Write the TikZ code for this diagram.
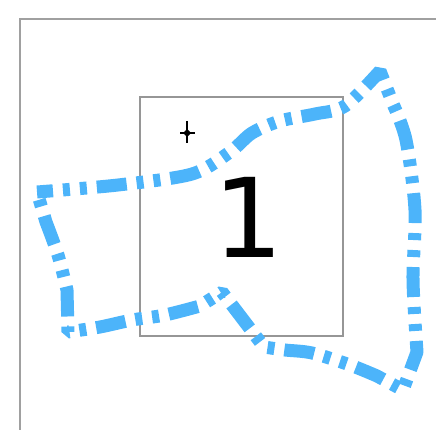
\documentclass[tikz,border=0pt]{standalone}
\usepackage{fontspec}
\usepackage{tikz}
\usetikzlibrary{positioning}
\newfontfamily\digitfont{DejaVu Sans}
\definecolor{axisgray}{RGB}{160,160,160}
\definecolor{boxgray}{RGB}{150,150,150}
\definecolor{routeblue}{RGB}{76,180,250}

\begin{document}
\begin{tikzpicture}[x=1pt, y=-1pt,
  frame/.style={draw=axisgray, line width=2pt},
  panel/.style={draw=boxgray, line width=1.3pt, minimum width=203pt, minimum height=239pt, inner sep=0pt},
  route/.style={draw=routeblue, line width=13pt, line join=bevel,
    dash pattern=on 30pt off 10pt on 7pt off 10pt on 7pt off 10pt, dash phase=14pt},
  digit/.style={font=\digitfont\fontsize{110}{110}\selectfont, inner sep=0pt},
  pinline/.style={draw=black, line width=2.4pt}
]
\useasboundingbox (0,0) rectangle (436,430);

% axes frame
\coordinate (ybot) at (20,430);
\coordinate (corner) at (20,19);
\coordinate (xend) at (436,19);
\draw[frame] (ybot) -- (corner) -- (xend);

% panel and label
\node[panel] (box) at (241.5,216.5) {};
\node[digit] (num) at (248,217) {1};

% marker
\coordinate (pin) at (187,133);
\draw[pinline] ([yshift=12pt]pin) -- ([yshift=-10pt]pin);
\draw[pinline] ([xshift=-7pt]pin) -- ([xshift=8pt]pin);
\fill (pin) ++(0,-4) -- ++(4,4) -- ++(-4,4) -- ++(-4,-4) -- cycle;

% route
\draw[route] plot[smooth, tension=0.5] coordinates {(37,192) (118,185) (192,174) (230,152) (252,133) (280,121) (315,114) (345,106) (380,71)}
  -- plot[smooth, tension=0.5] coordinates {(393,104) (406,140) (415,210) (413,280) (417,352)}
  -- (403,390)
  -- plot[smooth, tension=0.5] coordinates {(377,376) (350,365) (312,353) (285,350) (264,347)}
  -- (222,292)
  -- plot[smooth, tension=0.5] coordinates {(200,306) (165,315) (132,320) (100,327) (68,332)}
  -- plot[smooth, tension=0.5] coordinates {(67,290) (58,255) (46,222)}
  -- cycle;
\end{tikzpicture}
\end{document}
